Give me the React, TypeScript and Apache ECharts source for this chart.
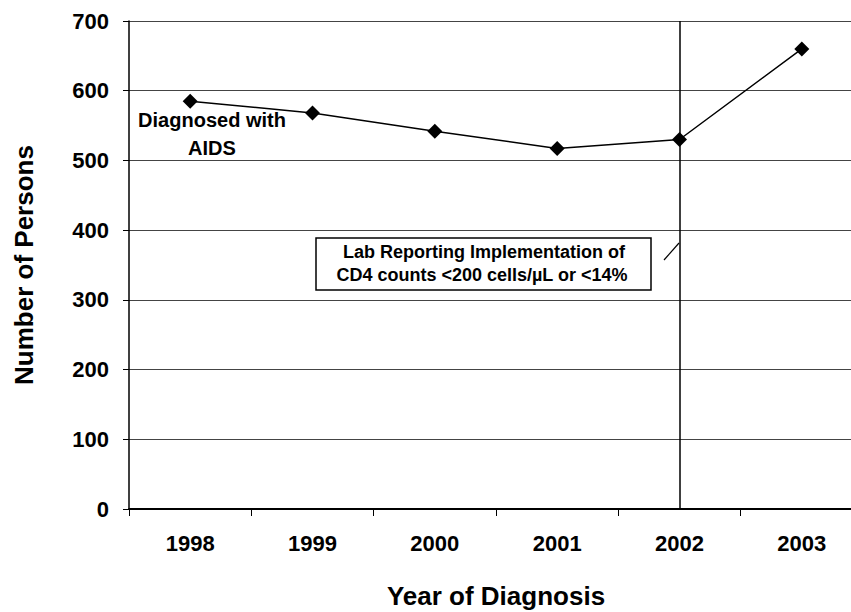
import React, { useEffect, useRef } from "react";
import * as echarts from "echarts";

const years = ["1998", "1999", "2000", "2001", "2002", "2003"];
const diagnosedAids = [585, 568, 542, 517, 530, 660];
const yTicks = [0, 100, 200, 300, 400, 500, 600, 700];
const implementationYear = "2002";

export default function App() {
  const ref = useRef<HTMLDivElement>(null);
  useEffect(() => {
    if (!ref.current) return;
    const chart = echarts.init(ref.current, null, { renderer: "svg" });
    const font = "Liberation Sans, Arial, sans-serif";
    chart.setOption({
      animation: false,
      backgroundColor: "#fff",
      grid: { left: 129, top: 21, width: 734, height: 488, outerBoundsMode: "none", containLabel: false },
      xAxis: {
        type: "category",
        data: years,
        boundaryGap: true,
        name: "Year of Diagnosis",
        nameLocation: "middle",
        nameGap: 74,
        nameTextStyle: { fontFamily: font, fontWeight: "bold", fontSize: 26, color: "#000" },
        axisLine: { lineStyle: { color: "#000", width: 1.8 } },
        axisTick: { show: true, length: 7, lineStyle: { color: "#000" }, alignWithLabel: false },
        axisLabel: { fontFamily: font, fontWeight: "bold", fontSize: 22, color: "#000", margin: 23 },
        splitLine: { show: false },
      },
      yAxis: {
        type: "value",
        min: yTicks[0],
        max: yTicks[yTicks.length - 1],
        interval: 100,
        name: "Number of Persons",
        nameLocation: "middle",
        nameGap: 92,
        nameRotate: 90,
        nameTextStyle: { fontFamily: font, fontWeight: "bold", fontSize: 26, color: "#000" },
        axisLine: { show: true, lineStyle: { color: "#000", width: 1.5 } },
        axisTick: { show: true, length: 6, lineStyle: { color: "#000" } },
        axisLabel: { fontFamily: font, fontWeight: "bold", fontSize: 22, color: "#000", margin: 20 },
        splitLine: { show: true, lineStyle: { color: "#444", width: 1.2 } },
      },
      series: [
        {
          type: "line",
          data: diagnosedAids,
          symbol: "diamond",
          symbolSize: 15,
          lineStyle: { color: "#000", width: 1.5 },
          itemStyle: { color: "#000" },
          markLine: {
            silent: true,
            symbol: ["none", "none"],
            label: { show: false },
            lineStyle: { color: "#000", width: 1.5, type: "solid" },
            data: [{ xAxis: implementationYear }],
          },
        },
      ],
      graphic: [
        {
          type: "text",
          x: 212,
          y: 120,
          style: {
            text: "Diagnosed with",
            font: `bold 20px ${font}`,
            fill: "#000",
            align: "center",
            verticalAlign: "middle",
          },
        },
        {
          type: "text",
          x: 212,
          y: 148,
          style: {
            text: "AIDS",
            font: `bold 20px ${font}`,
            fill: "#000",
            align: "center",
            verticalAlign: "middle",
          },
        },
        {
          type: "rect",
          shape: { x: 316, y: 238, width: 335, height: 52 },
          style: { fill: "#fff", stroke: "#000", lineWidth: 1.5 },
        },
        {
          type: "text",
          x: 484,
          y: 252,
          style: {
            text: "Lab Reporting Implementation of",
            font: `bold 18px ${font}`,
            fill: "#000",
            align: "center",
            verticalAlign: "middle",
          },
        },
        {
          type: "text",
          x: 482,
          y: 275,
          style: {
            text: "CD4 counts <200 cells/µL or <14%",
            font: `bold 18px ${font}`,
            fill: "#000",
            align: "center",
            verticalAlign: "middle",
          },
        },
        {
          type: "line",
          shape: { x1: 664, y1: 260, x2: 679, y2: 243 },
          style: { stroke: "#000", lineWidth: 1.2 },
        },
      ],
    });
    return () => chart.dispose();
  }, []);
  return <div ref={ref} style={{ width: 851, height: 612, position: "absolute", left: 0, top: 0 }} />;
}
